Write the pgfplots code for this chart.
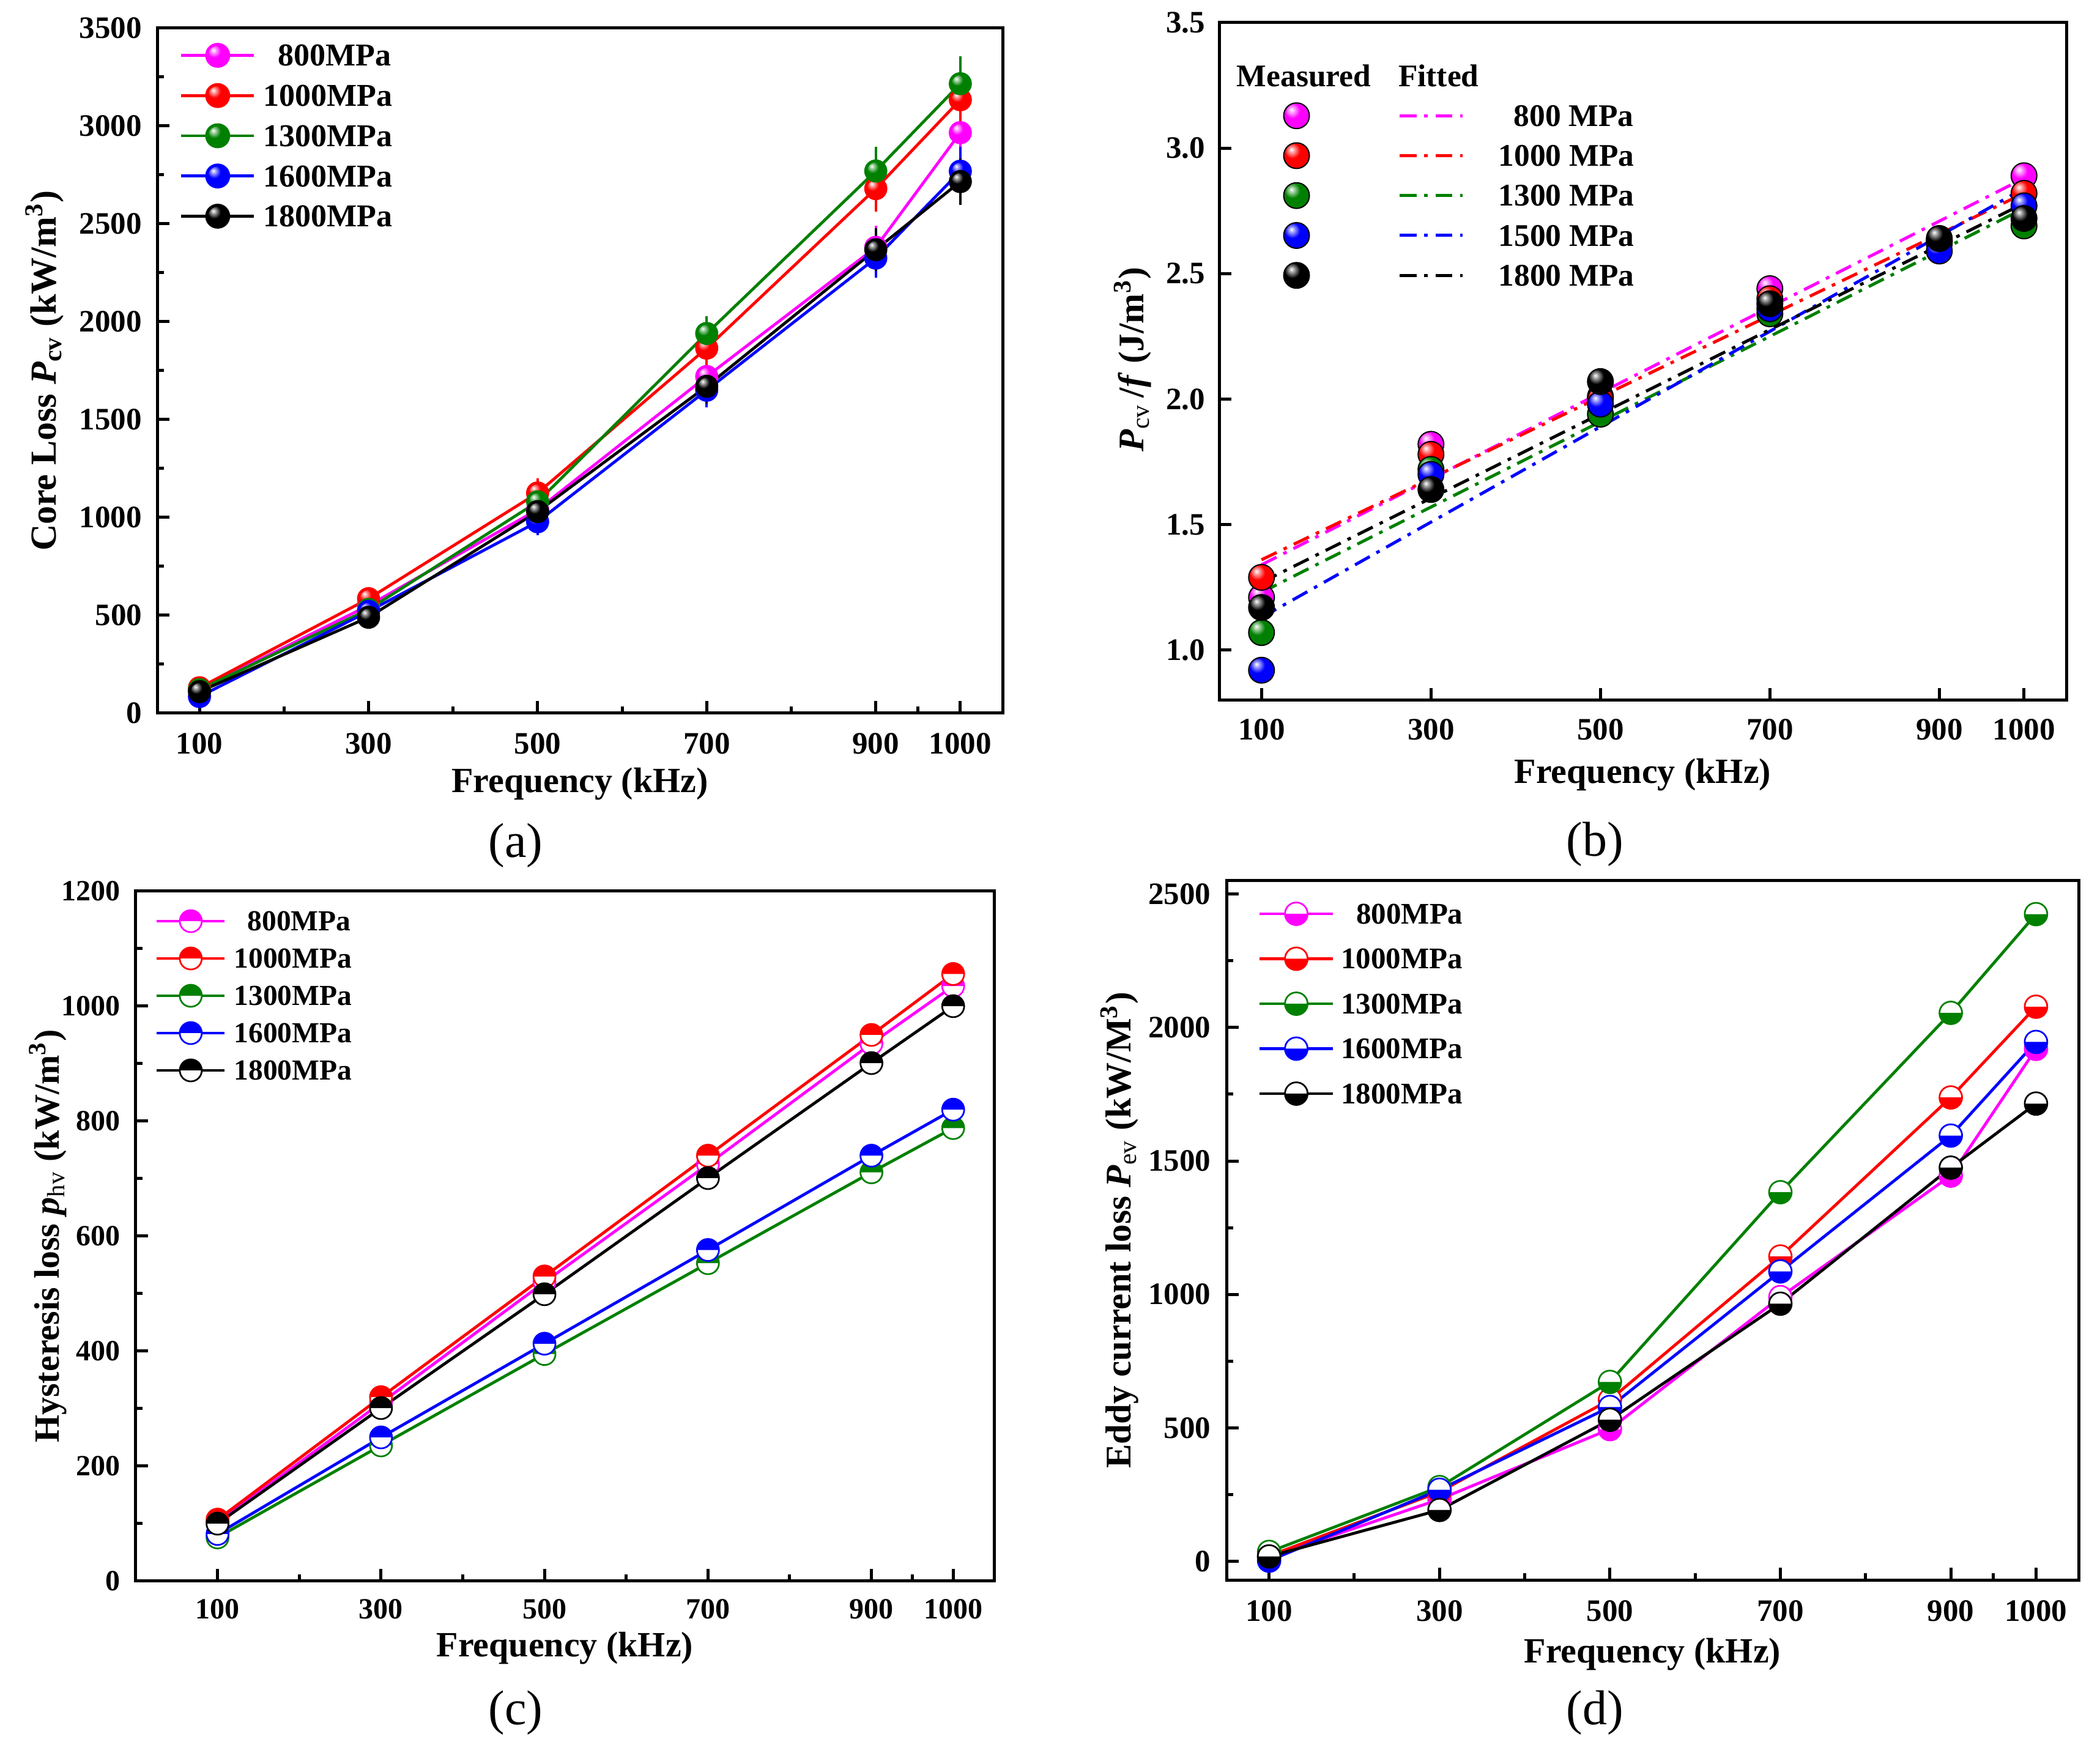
\documentclass[border=0pt]{standalone}
\usepackage{fontspec}
\setmainfont{Liberation Serif}
\usepackage{pgfplots}
\usepackage{pgfplotstable}
\pgfplotsset{compat=1.18}
\definecolor{cmag}{RGB}{255,0,255}
\definecolor{cred}{RGB}{255,0,0}
\definecolor{cgreen}{RGB}{0,128,0}
\definecolor{cblue}{RGB}{0,0,255}
\newcommand\fsz[1]{\fontsize{#1bp}{#1bp}\selectfont}

\makeatletter
\pgfdeclareradialshading[tikz@ball]{myball}{\pgfpoint{-10bp}{12bp}}{%
  color(0bp)=(white); color(5bp)=(tikz@ball!35!white); color(15bp)=(tikz@ball);
  color(45bp)=(tikz@ball); color(62bp)=(tikz@ball!80!black); color(80bp)=(tikz@ball!65!black)}
\makeatother

\pgfdeclareplotmark{sball}{\shade[shading=myball] (0pt,0pt) circle (\pgfplotmarksize);}
\pgfdeclareplotmark{htop}{%
  \begin{pgfscope}\pgfsetfillcolor{white}%
  \pgfpathcircle{\pgfpointorigin}{\pgfplotmarksize}\pgfusepath{fill}\end{pgfscope}%
  \pgfpathmoveto{\pgfqpoint{\pgfplotmarksize}{0pt}}%
  \pgfpatharc{0}{180}{\pgfplotmarksize}%
  \pgfpathclose\pgfusepath{fill}%
  \pgfpathcircle{\pgfpointorigin}{\pgfplotmarksize}\pgfusepath{stroke}%
}
\pgfdeclareplotmark{hbot}{%
  \begin{pgfscope}\pgfsetfillcolor{white}%
  \pgfpathcircle{\pgfpointorigin}{\pgfplotmarksize}\pgfusepath{fill}\end{pgfscope}%
  \pgfpathmoveto{\pgfqpoint{-\pgfplotmarksize}{0pt}}%
  \pgfpatharc{180}{360}{\pgfplotmarksize}%
  \pgfpathclose\pgfusepath{fill}%
  \pgfpathcircle{\pgfpointorigin}{\pgfplotmarksize}\pgfusepath{stroke}%
}

\tikzset{fitB/.style={#1, line width=1bp, dash pattern=on 5.5bp off 2.5bp on 1.2bp off 2.5bp},
  lball/.style={ball color=#1, shading=myball}}

\pgfplotstableread{
f    p800 e800 p1000 e1000 p1300 e1300 p1600 e1600 p1800 e1800
100  120  8    130   8     120   8     85    8     110   8
300  550  20   585   20    530   20    520   20    490   20
500  1040 30   1125  35    1080  35    978   30    1030  30
700  1720 50   1865  55    1940  50    1650  50    1670  50
900  2380 70   2680  80    2770  85    2325  60    2368  70
1000 2966 87   3134  94    3216  100   2769  85    2716  79
}\tblA

\pgfplotstableread{
f    m800 m1000 m1300 m1500 m1800
100  1.21 1.29  1.07  0.92  1.17
300  1.82 1.78  1.72  1.70  1.64
500  2.01 2.00  1.94  1.98  2.07
700  2.44 2.40  2.34  2.36  2.38
900  2.63 2.63  2.62  2.59  2.64
1000 2.89 2.82  2.69  2.77  2.72
}\tblB

\pgfplotstableread{
f    f800 f1000 f1300 f1500 f1800
100  1.34 1.36  1.23  1.13  1.27
1000 2.88 2.82  2.76  2.84  2.78
}\tblBfit

\pgfplotstableread{
f    p800 p1000 p1300 p1600 p1800
100  102  107   76    82    100
300  310  320   236   250   301
500  520  530   395   413   499
700  725  740   553   576   701
900  935  950   711   740   901
1000 1035 1056  788   820   1000
}\tblC

\pgfplotstableread{
f    p800 p1000 p1300 p1600 p1800
100  15   20    35    2     18
300  232  260   278   268   192
500  495  605   672   578   530
700  990  1142  1383  1086  965
900  1445 1738  2055  1595  1475
1000 1920 2078  2425  1946  1715
}\tblD

\pgfplotsset{
  panel/.style={
    scale only axis,
    axis line style={line width=1bp},
    every tick/.style={line width=1bp, black},
    tick align=inside, tick pos=left,
    major tick length=4bp, minor tick length=2.2bp,
    xtick={100,300,500,700,900,1000},
    /pgf/number format/assume math mode=true,
    /pgf/number format/1000 sep={},
    every tick label/.append style={inner sep=0pt},
    xticklabel style={anchor=center},
    yticklabel style={anchor=east},
    xlabel style={anchor=center, font=\fsz{11.6}\bfseries},
    ylabel style={anchor=center, font=\fsz{12}\bfseries},
    legend cell align=left,
    legend style={draw=none, fill=none, inner xsep=0pt, inner ysep=0pt,
      nodes={inner sep=0pt, text depth=0pt}, anchor=north west},
  },
  lns/.style={line width=0.95bp},
  ptsA/.style={lns, mark=sball, mark size=3.3bp, mark options={ball color=#1}, #1,
    error bars/.cd, y dir=both, y explicit, error mark=-,
    error bar style={line width=0.8bp},
    error mark options={mark size=2.5bp, line width=0.8bp}},
}

\begin{document}
\begin{tikzpicture}
\useasboundingbox (0,0) rectangle (686.6bp,569.6bp);

% ---------------- (a)
\begin{axis}[panel,
  at={(51.4bp,336.4bp)}, anchor=south west, width=276.4bp, height=224bp,
  xmin=50, xmax=1050, ymin=0, ymax=3500,
  ytick={0,500,...,3500}, minor y tick num=1,
  minor xtick={200,400,600,800,950},
  tick label style={font=\fsz{10.2}\bfseries},
  xticklabel style={yshift=-10bp}, yticklabel style={xshift=-4.8bp},
  xlabel={Frequency (kHz)},
  ylabel={Core Loss \textit{P}\textsubscript{cv} (kW/m\textsuperscript{3})},
  xlabel style={at={(axis description cs:0.5,-0.1037)}},
  ylabel style={at={(axis description cs:-0.1333,0.5)}},
  legend style={at={(axis description cs:0,1)}, xshift=7.2bp, yshift=-4.2bp,
    row sep=4.15bp, /tikz/every odd column/.append style={column sep=2.6bp},
    font=\fsz{10.4}\bfseries},
  legend image code/.code={\path[draw=none,fill=none] (0bp,-4.5bp) rectangle (23.8bp,4.5bp);
    \draw[mark repeat=2,mark phase=2, mark size=3.6bp] plot coordinates {(0bp,0bp) (11.9bp,0bp) (23.8bp,0bp)};},
]
\addplot[ptsA=cmag] table[x=f, y=p800, y error=e800] {\tblA};
\addlegendentry{\hspace{4.8bp}800MPa}
\addplot[ptsA=cred] table[x=f, y=p1000, y error=e1000] {\tblA};
\addlegendentry{1000MPa}
\addplot[ptsA=cgreen] table[x=f, y=p1300, y error=e1300] {\tblA};
\addlegendentry{1300MPa}
\addplot[ptsA=cblue] table[x=f, y=p1600, y error=e1600] {\tblA};
\addlegendentry{1600MPa}
\addplot[ptsA=black] table[x=f, y=p1800, y error=e1800] {\tblA};
\addlegendentry{1800MPa}
\end{axis}

% ---------------- (b)
\begin{axis}[panel,
  at={(398.6bp,340.6bp)}, anchor=south west, width=277bp, height=221.6bp,
  xmin=50, xmax=1050, ymin=0.8, ymax=3.5,
  ytick={1,1.5,...,3.5},
  yticklabel style={/pgf/number format/fixed, /pgf/number format/fixed zerofill, /pgf/number format/precision=1},
  tick label style={font=\fsz{10.2}\bfseries},
  xticklabel style={yshift=-9.6bp}, yticklabel style={xshift=-4.4bp},
  xlabel={Frequency (kHz)},
  ylabel={\textit{P}\textsubscript{\mdseries cv}\,/\textit{f} (J/m\textsuperscript{3})},
  xlabel style={at={(axis description cs:0.5,-0.110)}},
  ylabel style={at={(axis description cs:-0.102,0.503)}, font=\fsz{11.8}\bfseries},
  legend style={at={(axis description cs:0,1)}, xshift=0bp, yshift=-12.7bp,
    row sep=4.05bp, /tikz/every odd column/.append style={column sep=6.4bp},
    font=\fsz{10.3}\bfseries},
]
\addplot[only marks, mark=sball, mark size=4.2bp, mark options={ball color=cmag}, forget plot] table[x=f, y=m800] {\tblB};
\addplot[only marks, mark=sball, mark size=4.2bp, mark options={ball color=cred}, forget plot] table[x=f, y=m1000] {\tblB};
\addplot[only marks, mark=sball, mark size=4.2bp, mark options={ball color=cgreen}, forget plot] table[x=f, y=m1300] {\tblB};
\addplot[only marks, mark=sball, mark size=4.2bp, mark options={ball color=cblue}, forget plot] table[x=f, y=m1500] {\tblB};
\addplot[only marks, mark=sball, mark size=4.2bp, mark options={ball color=black}, forget plot] table[x=f, y=m1800] {\tblB};
\addplot[fitB=cmag, forget plot] table[x=f, y=f800] {\tblBfit};
\addplot[fitB=cred, forget plot] table[x=f, y=f1000] {\tblBfit};
\addplot[fitB=cgreen, forget plot] table[x=f, y=f1300] {\tblBfit};
\addplot[fitB=cblue, forget plot] table[x=f, y=f1500] {\tblBfit};
\addplot[fitB=black, forget plot] table[x=f, y=f1800] {\tblBfit};
\addlegendimage{legend image code/.code={\path[draw=none,fill=none] (0bp,-4.5bp) rectangle (79.3bp,4.5bp);
  \node[inner sep=0pt, anchor=center, font=\fsz{10.3}\bfseries] at (27.5bp,0bp) {Measured};
  \node[inner sep=0pt, anchor=west, font=\fsz{10.3}\bfseries] at (58.2bp,0bp) {Fitted};}}
\addlegendentry{}
\addlegendimage{legend image code/.code={\path[draw=none,fill=none] (0bp,-4.5bp) rectangle (79.3bp,4.5bp);
  \shade[lball=cmag] (25.1bp,0bp) circle (4.2bp);
  \draw[fitB=cmag] (58.8bp,0bp) -- (79.3bp,0bp);}}
\addlegendentry{\hspace{5bp}800 MPa}
\addlegendimage{legend image code/.code={\path[draw=none,fill=none] (0bp,-4.5bp) rectangle (79.3bp,4.5bp);
  \shade[lball=cred] (25.1bp,0bp) circle (4.2bp);
  \draw[fitB=cred] (58.8bp,0bp) -- (79.3bp,0bp);}}
\addlegendentry{1000 MPa}
\addlegendimage{legend image code/.code={\path[draw=none,fill=none] (0bp,-4.5bp) rectangle (79.3bp,4.5bp);
  \shade[lball=cgreen] (25.1bp,0bp) circle (4.2bp);
  \draw[fitB=cgreen] (58.8bp,0bp) -- (79.3bp,0bp);}}
\addlegendentry{1300 MPa}
\addlegendimage{legend image code/.code={\path[draw=none,fill=none] (0bp,-4.5bp) rectangle (79.3bp,4.5bp);
  \shade[lball=cblue] (25.1bp,0bp) circle (4.2bp);
  \draw[fitB=cblue] (58.8bp,0bp) -- (79.3bp,0bp);}}
\addlegendentry{1500 MPa}
\addlegendimage{legend image code/.code={\path[draw=none,fill=none] (0bp,-4.5bp) rectangle (79.3bp,4.5bp);
  \shade[lball=black] (25.1bp,0bp) circle (4.2bp);
  \draw[fitB=black] (58.8bp,0bp) -- (79.3bp,0bp);}}
\addlegendentry{1800 MPa}
\end{axis}

% ---------------- (c)
\begin{axis}[panel,
  at={(44.4bp,52.6bp)}, anchor=south west, width=280.6bp, height=225.6bp,
  xmin=0, xmax=1050, ymin=0, ymax=1200,
  ytick={0,200,...,1200}, minor y tick num=1,
  minor xtick={200,400,600,800,950},
  tick label style={font=\fsz{9.6}\bfseries},
  xticklabel style={yshift=-9.1bp}, yticklabel style={xshift=-4.9bp},
  xlabel={Frequency (kHz)},
  ylabel={Hysteresis loss \textit{p}\textsubscript{\mdseries hv} (kW/m\textsuperscript{3})},
  xlabel style={at={(axis description cs:0.5,-0.0973)}},
  ylabel style={at={(axis description cs:-0.1026,0.5)}, font=\fsz{11.6}\bfseries},
  legend style={at={(axis description cs:0,1)}, xshift=6.2bp, yshift=-5.6bp,
    row sep=4.2bp, /tikz/every odd column/.append style={column sep=2.6bp},
    font=\fsz{9.5}\bfseries},
  legend image code/.code={\path[draw=none,fill=none] (0bp,-4bp) rectangle (22.2bp,4bp);
    \draw[mark repeat=2,mark phase=2] plot coordinates {(0bp,0bp) (11.1bp,0bp) (22.2bp,0bp)};},
  every axis plot/.append style={lns, mark=htop, mark size=3.6bp, mark options={line width=0.55bp}},
]
\addplot[cmag] table[x=f, y=p800] {\tblC};
\addlegendentry{\hspace{4.4bp}800MPa}
\addplot[cred] table[x=f, y=p1000] {\tblC};
\addlegendentry{1000MPa}
\addplot[cgreen] table[x=f, y=p1300] {\tblC};
\addlegendentry{1300MPa}
\addplot[cblue] table[x=f, y=p1600] {\tblC};
\addlegendentry{1600MPa}
\addplot[black] table[x=f, y=p1800] {\tblC};
\addlegendentry{1800MPa}
\end{axis}

% ---------------- (d)
\begin{axis}[panel,
  at={(401bp,53bp)}, anchor=south west, width=278.6bp, height=228.6bp,
  xmin=50, xmax=1050, ymin=-70, ymax=2550,
  ytick={0,500,...,2500}, minor y tick num=1,
  minor xtick={200,400,600,800,950},
  tick label style={font=\fsz{10.2}\bfseries},
  xticklabel style={yshift=-10.1bp}, yticklabel style={xshift=-5bp},
  xlabel={Frequency (kHz)},
  ylabel={Eddy current loss \textit{P}\textsubscript{\mdseries ev} (kW/M\textsuperscript{3})},
  xlabel style={at={(axis description cs:0.5,-0.1068)}},
  ylabel style={at={(axis description cs:-0.1256,0.5)}, font=\fsz{11.8}\bfseries},
  legend style={at={(axis description cs:0,1)}, xshift=10.2bp, yshift=-6.6bp,
    row sep=6.7bp, /tikz/every odd column/.append style={column sep=2.2bp},
    font=\fsz{9.8}\bfseries},
  legend image code/.code={\path[draw=none,fill=none] (0bp,-4bp) rectangle (23.9bp,4bp);
    \draw[mark repeat=2,mark phase=2] plot coordinates {(0bp,0bp) (11.95bp,0bp) (23.9bp,0bp)};},
  every axis plot/.append style={lns, mark=hbot, mark size=3.7bp, mark options={line width=0.55bp}},
]
\addplot[cmag] table[x=f, y=p800] {\tblD};
\addlegendentry{\hspace{5bp}800MPa}
\addplot[cred] table[x=f, y=p1000] {\tblD};
\addlegendentry{1000MPa}
\addplot[cgreen] table[x=f, y=p1300] {\tblD};
\addlegendentry{1300MPa}
\addplot[cblue] table[x=f, y=p1600] {\tblD};
\addlegendentry{1600MPa}
\addplot[black] table[x=f, y=p1800] {\tblD};
\addlegendentry{1800MPa}
\end{axis}

\node[font=\fsz{16}] at (168.6bp,293.2bp) {(a)};
\node[font=\fsz{16}] at (521.4bp,293.6bp) {(b)};
\node[font=\fsz{16}] at (168.6bp,9.6bp) {(c)};
\node[font=\fsz{16}] at (521.4bp,9.6bp) {(d)};
\end{tikzpicture}
\end{document}
